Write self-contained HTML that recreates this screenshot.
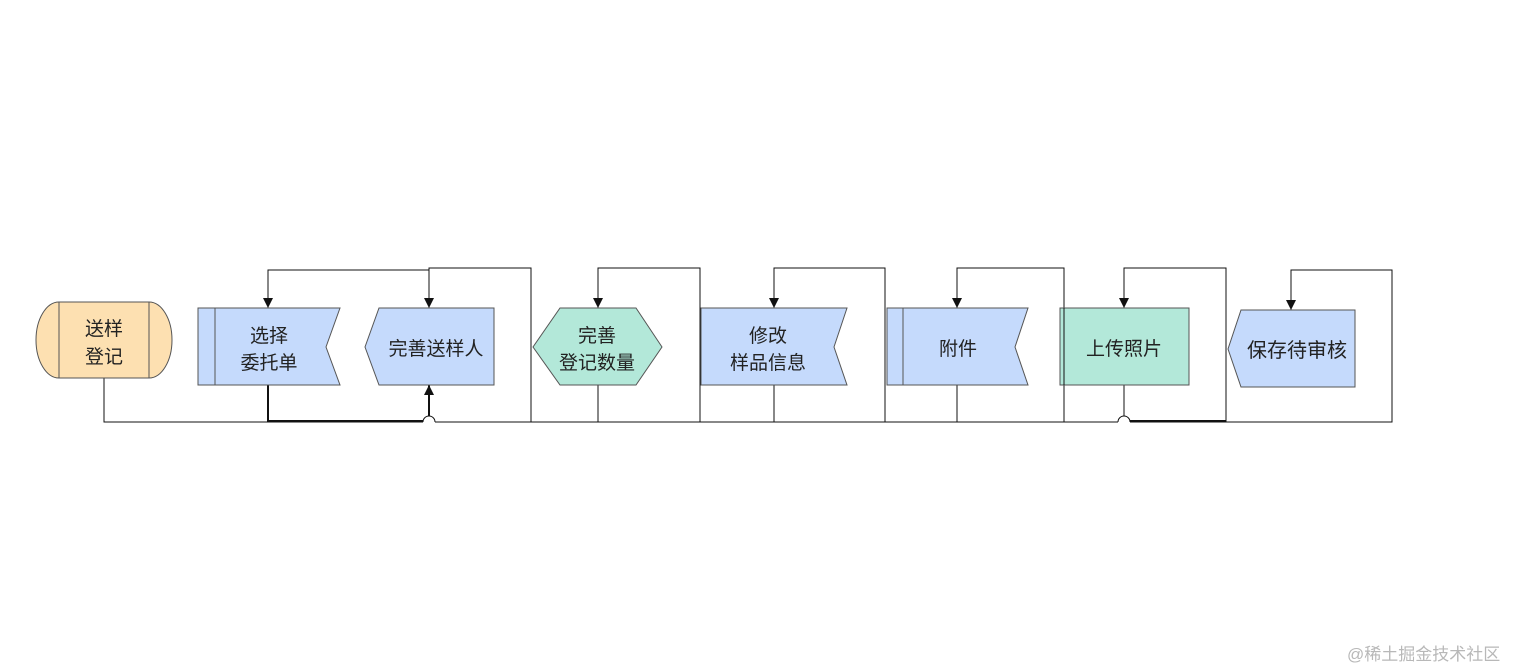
<!DOCTYPE html>
<html><head><meta charset="utf-8"><style>
html,body{margin:0;padding:0;background:#fff;width:1514px;height:670px;overflow:hidden}
svg{display:block}
text{font-family:"Liberation Sans","Noto Sans CJK SC",sans-serif;font-size:19px;fill:#222;text-anchor:middle}
.wm{font-size:17px;fill:#b8b8b8;text-anchor:start}
</style></head><body>
<svg width="1514" height="670" viewBox="0 0 1514 670" xmlns="http://www.w3.org/2000/svg">
<defs><marker id="a" markerWidth="10" markerHeight="10" refX="10" refY="5" orient="auto" markerUnits="userSpaceOnUse"><path d="M0,0 L10,5 L0,10 z" fill="#111"/></marker></defs>
<g fill="none" stroke="#111" stroke-width="1">
<path d="M104,378 V422 H423 M435,422 H1118 M1130,422 H1392 V270 H1291 V310" marker-end="url(#a)"/>
<path d="M423,422 A6,6 0 0 1 435,422"/>
<path d="M1118,422 A6,6 0 0 1 1130,422"/>
<path d="M268,385 V421 H423" stroke-width="2"/>
<path d="M1130,421 H1226" stroke-width="2"/>
<path d="M429,270 H268 V308" marker-end="url(#a)"/>
<path d="M531,422 V268 H429 V308" marker-end="url(#a)"/>
<path d="M429,416 V385" stroke-width="2" marker-end="url(#a)"/>
<path d="M598,385 V422"/><path d="M700,422 V268 H598 V308" marker-end="url(#a)"/>
<path d="M774,385 V422"/><path d="M885,422 V268 H774 V308" marker-end="url(#a)"/>
<path d="M957,385 V422"/><path d="M1064,422 V268 H957 V308" marker-end="url(#a)"/>
<path d="M1124,385 V416"/><path d="M1226,422 V268 H1124 V308" marker-end="url(#a)"/>
</g>
<g stroke="#555" stroke-width="1">
<path d="M59,302 H149 A23,38 0 0 1 149,378 H59 A23,38 0 0 1 59,302 Z" fill="#fde0b1"/>
<path d="M59,302 V378 M149,302 V378" fill="none"/>
<path d="M198,308 H340 L326,347 L340,385 H198 Z" fill="#c5dafc"/>
<path d="M215,308 V385" fill="none"/>
<path d="M379,308 H494 V385 H379 L365,347 Z" fill="#c5dafc"/>
<path d="M560,308 H636 L662,347 L636,385 H560 L533,347 Z" fill="#b3e8d9"/>
<path d="M701,308 H847 L834,347 L847,385 H701 Z" fill="#c5dafc"/>
<path d="M887,308 H1028 L1015,347 L1028,385 H887 Z" fill="#c5dafc"/>
<path d="M903,308 V385" fill="none"/>
<path d="M1060,308 H1189 V385 H1060 Z" fill="#b3e8d9"/>
<path d="M1241,310 H1355 V387 H1241 L1228,349 Z" fill="#c5dafc"/>
</g>
<path d="M1064,308 V385" stroke="#111" fill="none"/>
<text x="104" y="335">送样</text><text x="104" y="363">登记</text>
<text x="269" y="342">选择</text><text x="269" y="369">委托单</text>
<text x="436" y="355">完善送样人</text>
<text x="597" y="342">完善</text><text x="597" y="369">登记数量</text>
<text x="768" y="342">修改</text><text x="768" y="369">样品信息</text>
<text x="958" y="355">附件</text>
<text x="1124" y="355">上传照片</text>
<text x="1297" y="357" style="font-size:20px">保存待审核</text>
<text class="wm" x="1347" y="660">@稀土掘金技术社区</text>
</svg>
</body></html>
